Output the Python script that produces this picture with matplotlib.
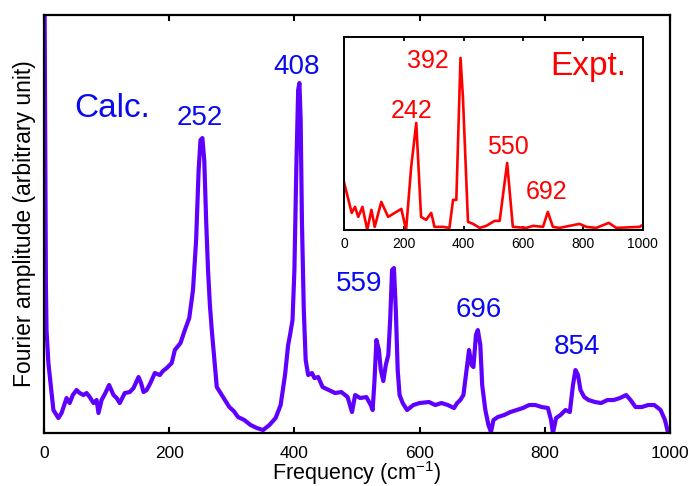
import matplotlib
matplotlib.use("Agg")
import matplotlib.pyplot as plt

plt.rcParams['font.family'] = ['Liberation Sans', 'DejaVu Sans']
plt.rcParams['mathtext.fontset'] = 'custom'
plt.rcParams['mathtext.rm'] = 'Liberation Sans'
plt.rcParams['mathtext.default'] = 'regular'

### data (arbitrary amplitude units)

# calculated spectrum
calc_freq = [0, 1, 3, 4, 7, 15, 23, 28, 36, 41, 46, 52, 57, 63, 68, 73, 79, 84,
             87, 92, 98, 104, 111, 116, 121, 129, 137, 143, 151, 155, 159, 164,
             170, 177, 185, 190, 196, 204, 209, 218, 225, 232, 238, 243, 247,
             250, 253, 256, 259, 262, 265, 268, 276, 286, 296, 303, 310, 320,
             330, 340, 350, 360, 370, 378, 385, 390, 393, 397, 400, 403, 406,
             408, 410, 412, 415, 418, 422, 428, 432, 438, 445, 455, 465, 475,
             485, 492, 497, 505, 515, 522, 525, 528, 531, 535, 538, 542, 546,
             550, 553, 556, 559, 562, 565, 568, 573, 580, 590, 600, 615, 625,
             635, 645, 655, 660, 665, 670, 675, 679, 683, 686, 690, 693, 697,
             700, 705, 710, 714, 718, 725, 735, 745, 755, 765, 775, 785, 795,
             805, 810, 813, 818, 825, 833, 840, 845, 849, 853, 857, 863, 870,
             880, 890, 900, 910, 920, 930, 937, 945, 955, 965, 975, 985, 992,
             997]
calc_amp = [470, 420, 150, 103, 70, 23, 15, 20, 35, 30, 38, 43, 40, 38, 40, 36,
            30, 33, 20, 33, 40, 48, 38, 35, 30, 40, 41, 45, 56, 50, 41, 43, 50,
            60, 58, 62, 65, 70, 83, 90, 103, 115, 143, 193, 263, 293, 295, 273,
            213, 163, 128, 103, 46, 36, 26, 22, 16, 13, 8, 5, 3, 8, 15, 28, 58,
            88, 98, 113, 163, 263, 343, 350, 313, 213, 123, 73, 58, 60, 55, 56,
            46, 43, 40, 41, 36, 21, 38, 35, 36, 28, 23, 53, 93, 83, 63, 52, 68,
            78, 113, 163, 165, 123, 63, 38, 30, 23, 28, 30, 31, 28, 30, 28, 25,
            30, 33, 38, 63, 83, 68, 66, 98, 103, 88, 48, 23, 8, 1, 13, 16, 18,
            21, 23, 25, 28, 28, 26, 25, 13, 0, 15, 18, 23, 21, 48, 63, 58, 43,
            36, 33, 31, 30, 33, 33, 35, 38, 33, 26, 26, 28, 28, 23, 13, 0]

calc_peaks = [252, 408, 559, 696, 854]
calc_peak_pos = [(249, 315), (404, 366), (503, 149), (695, 123), (851, 86)]

# experimental spectrum (inset)
expt_freq = [0, 26, 37, 48, 62, 78, 92, 103, 125, 148, 170, 192, 208, 225, 242,
             258, 275, 292, 303, 331, 353, 365, 376, 390, 398, 415, 432, 454,
             476, 504, 521, 530, 546, 565, 610, 633, 666, 682, 699, 721, 788,
             811, 844, 886, 911, 989, 1000]
expt_amp = [48, 17, 23, 13, 23, 0, 20, 3, 28, 13, 17, 21, 0, 63, 107, 13, 10,
            17, 3, 3, 2, 30, 30, 172, 133, 8, 6, 2, 4, 9, 9, 30, 67, 3, 2, 4, 3,
            18, 3, 2, 6, 3, 2, 7, 2, 3, 5]

expt_peaks = [242, 392, 550, 692]
expt_peak_pos = [(227, 119), (281, 169), (548, 83), (679, 38)]

calc_line = '#5f00ff'
calc_text = '#0a0af0'
expt_color = '#ff0000'

### figure

fig = plt.figure(figsize=(6.92, 4.86), dpi=100)
ax = fig.add_axes([0.0636, 0.109, 0.9046, 0.860])

ax.plot(calc_freq, calc_amp, color=calc_line, lw=3.0, solid_joinstyle='round')
ax.set_xlim(0, 1000)
ax.set_ylim(0, 418)
ax.set_xticks([0, 200, 400, 600, 800, 1000])
ax.set_yticks([])
ax.tick_params(axis='x', direction='in', top=True, length=4, width=1.5,
               labelsize=12.5, pad=9)
for s in ax.spines.values():
    s.set_linewidth(1.6)

ax.set_xlabel(r'Frequency (cm$^{-1}$)', fontsize=15.5, labelpad=-1)
ax.set_ylabel('Fourier amplitude (arbitrary unit)', fontsize=16.5, labelpad=6)

ax.text(109, 325, 'Calc.', color=calc_text, fontsize=24, ha='center', va='center')
for lab, (x, y) in zip(calc_peaks, calc_peak_pos):
    ax.text(x, y, str(lab), color=calc_text, fontsize=20, ha='center', va='center')

# inset
ins = fig.add_axes([0.497, 0.527, 0.432, 0.397])
ins.plot(expt_freq, expt_amp, color=expt_color, lw=1.9)
ins.set_xlim(0, 1000)
ins.set_ylim(0, 193)
ins.set_xticks([0, 200, 400, 600, 800, 1000])
ins.set_yticks([])
ins.tick_params(axis='x', direction='in', top=True, length=3, width=1.3,
                labelsize=10, pad=5)
for s in ins.spines.values():
    s.set_linewidth(1.4)

ins.text(816, 163, 'Expt.', color=expt_color, fontsize=24, ha='center', va='center')
for lab, (x, y) in zip(expt_peaks, expt_peak_pos):
    ins.text(x, y, str(lab), color=expt_color, fontsize=18, ha='center', va='center')

fig.savefig('out.png', dpi=100)
